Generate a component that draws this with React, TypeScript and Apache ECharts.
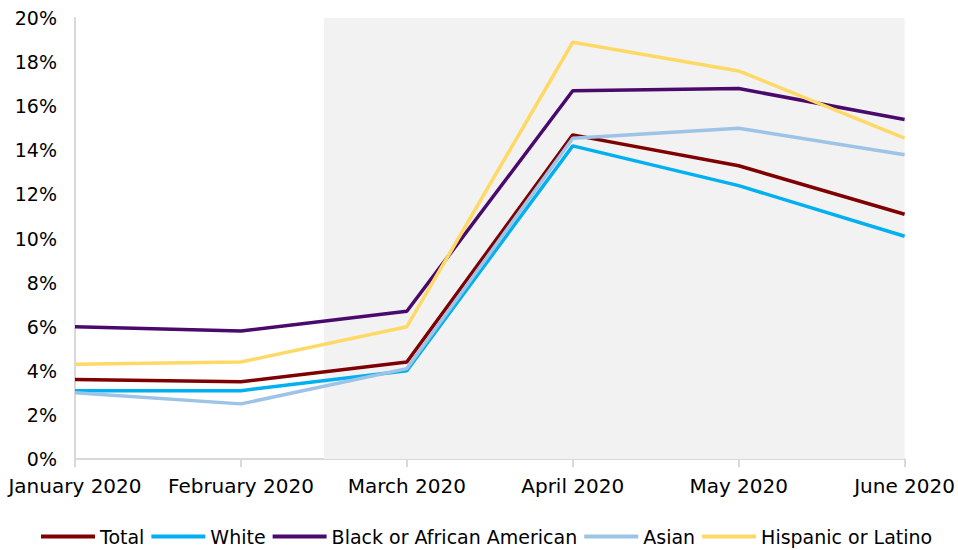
import React, { useEffect, useRef } from "react";
import * as echarts from "echarts";

const months = ["January 2020", "February 2020", "March 2020", "April 2020", "May 2020", "June 2020"];
const total = [3.6, 3.5, 4.4, 14.7, 13.3, 11.1];
const white = [3.1, 3.1, 4.0, 14.2, 12.4, 10.1];
const black = [6.0, 5.8, 6.7, 16.7, 16.8, 15.4];
const asian = [3.0, 2.5, 4.1, 14.55, 15.0, 13.8];
const hispanic = [4.3, 4.4, 6.0, 18.9, 17.6, 14.55];
const yTicks = [0, 2, 4, 6, 8, 10, 12, 14, 16, 18, 20];

const FONT = "'DejaVu Sans', sans-serif";

const seriesDefs = [
  { name: "Total", data: total, color: "#7f0000" },
  { name: "White", data: white, color: "#00b0f0" },
  { name: "Black or African American", data: black, color: "#4a0a6c" },
  { name: "Asian", data: asian, color: "#9dc3e6" },
  { name: "Hispanic or Latino", data: hispanic, color: "#ffd966" },
];

export default function App() {
  const ref = useRef<HTMLDivElement>(null);
  useEffect(() => {
    if (!ref.current) return;
    const chart = echarts.init(ref.current, null, { renderer: "svg" });
    chart.setOption({
      animation: false,
      textStyle: { fontFamily: FONT },
      grid: { left: 75, right: 52, top: 18, bottom: 91 },
      legend: {
        top: 522,
        left: 36,
        itemWidth: 54,
        itemHeight: 4,
        itemGap: 7,
        icon: "rect",
        textStyle: { fontSize: 19, color: "#000", fontFamily: FONT },
        data: seriesDefs.map((s) => s.name),
      },
      xAxis: {
        type: "value",
        min: 0,
        max: months.length - 1,
        interval: 1,
        axisLine: { show: true, lineStyle: { color: "#d9d9d9", width: 2 } },
        axisTick: { show: true, length: 8, lineStyle: { color: "#d9d9d9", width: 2 } },
        splitLine: { show: false },
        axisLabel: {
          fontSize: 20,
          color: "#000",
          margin: 17,
          fontFamily: FONT,
          formatter: (v: number) => months[v] ?? "",
        },
      },
      yAxis: {
        type: "value",
        min: yTicks[0],
        max: yTicks[yTicks.length - 1],
        interval: 2,
        axisLine: { show: true, lineStyle: { color: "#d9d9d9", width: 2 } },
        axisTick: { show: false },
        splitLine: { show: false },
        axisLabel: { fontSize: 19, color: "#000", margin: 18, fontFamily: FONT, formatter: "{value}%" },
      },
      series: seriesDefs.map((s, i) => ({
        name: s.name,
        type: "line",
        data: s.data.map((v, j) => [j, v]),
        showSymbol: false,
        symbol: "none",
        lineStyle: { color: s.color, width: 3.5 },
        itemStyle: { color: s.color },
        z: 3,
        ...(i === 0
          ? {
              markArea: {
                silent: true,
                itemStyle: { color: "#f2f2f2" },
                data: [[{ xAxis: 1.5, yAxis: 0 }, { xAxis: 5, yAxis: 20 }]],
              },
            }
          : {}),
      })),
    });
    return () => chart.dispose();
  }, []);
  return <div ref={ref} style={{ width: 958, height: 550, position: "absolute", left: 0, top: 0 }} />;
}
